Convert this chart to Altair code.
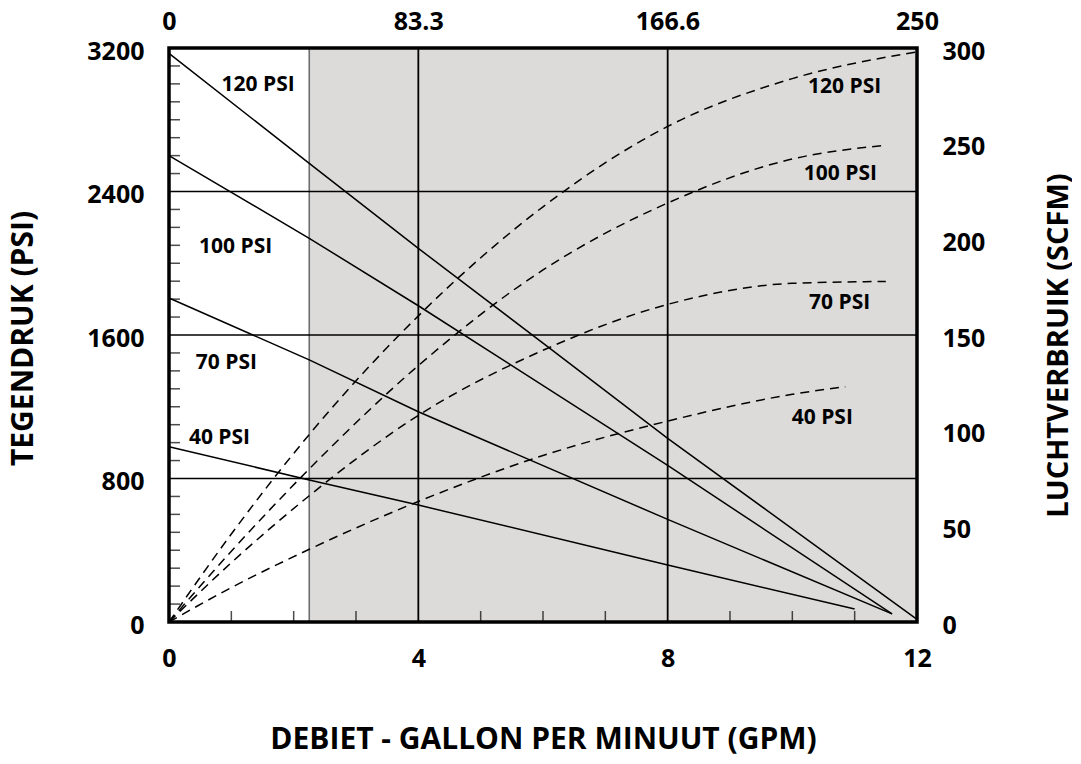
import altair as alt
import pandas as pd

FONT = "Open Sans"

# ---------------- data ----------------
series = ["120 PSI", "100 PSI", "70 PSI", "40 PSI"]

# back pressure (PSI, left axis) vs flow (GPM)
bp_x = {
    "120 PSI": [0, 2.25, 4, 6, 8, 12],
    "100 PSI": [0, 2.25, 4, 8, 11.6],
    "70 PSI": [0, 2.25, 4, 8, 11.6],
    "40 PSI": [0, 2.25, 4, 8, 11],
}
bp_y = {
    "120 PSI": [3170, 2557, 2083, 1555, 1024, 15],
    "100 PSI": [2600, 2139, 1763, 873, 45],
    "70 PSI": [1806, 1461, 1172, 572, 45],
    "40 PSI": [977, 792, 652, 318, 72],
}

# air consumption (SCFM, right axis) vs flow (GPM)
air_x = {
    "120 PSI": [0, 1, 2.25, 4, 6, 8, 10, 12],
    "100 PSI": [0, 1, 2.25, 4, 6, 8, 10, 11.45],
    "70 PSI": [0, 1, 2.25, 4, 6, 8, 10, 11.5],
    "40 PSI": [0, 1, 2.25, 4, 6, 8, 10, 10.85],
}
air_y = {
    "120 PSI": [0, 46, 98, 160, 217, 259, 284, 298],
    "100 PSI": [0, 37, 80, 134, 184, 219, 242, 249],
    "70 PSI": [0, 31, 66, 108, 142, 166, 177, 178],
    "40 PSI": [0, 18, 38, 63, 87, 105, 119, 123],
}

left_lbl_x = [1.43, 1.07, 0.92, 0.81]
left_lbl_y = [2996, 2088, 1446, 1028]
right_lbl_x = [10.84, 10.77, 10.76, 10.48]
right_lbl_y = [2985, 2495, 1781, 1140]

shade_start = 2.25
x_ticks_major = [0, 4, 8, 12]
y_ticks_major = [0, 800, 1600, 2400, 3200]
y2_ticks = [0, 50, 100, 150, 200, 250, 300]
top_ticks = [0, 83.3, 166.6, 250]
top_labels = ["0", "83.3", "166.6", "250"]
x_minor = [1, 2, 3, 5, 6, 7, 9, 10, 11]
y_minor = [v for v in range(100, 3200, 100) if v % 800 != 0]
v_grid = [4, 8]
h_grid = [800, 1600, 2400]

# ---------------- tables ----------------
bp_df = pd.DataFrame([
    {"s": s, "gpm": x, "psi": y, "o": i}
    for s in series for i, (x, y) in enumerate(zip(bp_x[s], bp_y[s]))
])
air_df = pd.DataFrame([
    {"s": s, "gpm": x, "scfm": y, "o": i}
    for s in series for i, (x, y) in enumerate(zip(air_x[s], air_y[s]))
])
lbl_df = pd.DataFrame({
    "t": series + series,
    "x": left_lbl_x + right_lbl_x,
    "y": left_lbl_y + right_lbl_y,
})

top_expr = " : ".join(
    f"abs(datum.value - {v}) < 0.01 ? '{t}'" for v, t in zip(top_ticks, top_labels)
) + " : ''"

xs = alt.Scale(domain=[0, 12], nice=False, zero=False)
ys = alt.Scale(domain=[0, 3200], nice=False)
ys2 = alt.Scale(domain=[0, 300], nice=False)
xs_top = alt.Scale(domain=[0, 250], nice=False)

shade = alt.Chart(pd.DataFrame({"x": [shade_start], "x2": [12], "y": [0], "y2": [3200]})).mark_rect(
    color="#dcdbd9"
).encode(
    x=alt.X("x:Q", scale=xs, axis=None), x2="x2:Q",
    y=alt.Y("y:Q", scale=ys, axis=None), y2="y2:Q",
)

shade_line = alt.Chart(pd.DataFrame({"x": [shade_start], "y": [0], "y2": [3200]})).mark_rule(
    color="#6e6e6e", strokeWidth=1.6
).encode(
    x=alt.X("x:Q", scale=xs, axis=None),
    y=alt.Y("y:Q", scale=ys, axis=None), y2="y2:Q",
)

vgrid = alt.Chart(pd.DataFrame({"x": v_grid, "y": [0] * len(v_grid), "y2": [3200] * len(v_grid)})).mark_rule(
    color="black", strokeWidth=1.8
).encode(
    x=alt.X("x:Q", scale=xs, axis=None),
    y=alt.Y("y:Q", scale=ys, axis=None), y2="y2:Q",
)

hgrid = alt.Chart(pd.DataFrame({"y": h_grid, "x": [0] * len(h_grid), "x2": [12] * len(h_grid)})).mark_rule(
    color="black", strokeWidth=1.6
).encode(
    x=alt.X("x:Q", scale=xs, axis=None), x2="x2:Q",
    y=alt.Y("y:Q", scale=ys, axis=None),
)

yticks = alt.Chart(pd.DataFrame({"y": y_minor, "x": [0] * len(y_minor)})).mark_tick(
    color="black", size=11, thickness=1.5, orient="horizontal", xOffset=5.5
).encode(
    x=alt.X("x:Q", scale=xs, axis=None),
    y=alt.Y("y:Q", scale=ys, axis=None),
)

xticks = alt.Chart(pd.DataFrame({"x": x_minor, "y": [0] * len(x_minor)})).mark_tick(
    color="black", size=11, thickness=1.5, orient="vertical", yOffset=-5.5
).encode(
    x=alt.X("x:Q", scale=xs, axis=None),
    y=alt.Y("y:Q", scale=ys, axis=None),
)

labels = alt.Chart(lbl_df).mark_text(
    font=FONT, fontSize=21, fontWeight="bold", color="black", align="center", baseline="middle"
).encode(
    x=alt.X("x:Q", scale=xs, axis=None),
    y=alt.Y("y:Q", scale=ys, axis=None),
    text="t:N",
)

frame = alt.Chart(pd.DataFrame({"x": [0], "x2": [12], "y": [0], "y2": [3200]})).mark_rect(
    filled=False, stroke="black", strokeWidth=3.5
).encode(
    x=alt.X("x:Q", scale=xs, axis=None), x2="x2:Q",
    y=alt.Y("y:Q", scale=ys, axis=None), y2="y2:Q",
)

group_a = alt.layer(shade, shade_line, vgrid, hgrid, labels)

solid = alt.Chart(bp_df).mark_line(color="black", strokeWidth=1.5).encode(
    x=alt.X("gpm:Q", scale=xs, axis=alt.Axis(
        values=x_ticks_major, format="d", orient="bottom",
        title="DEBIET - GALLON PER MINUUT (GPM)", titleFontSize=30,
        labelPadding=24, titleX=374, titleY=117, titleBaseline="middle", titleAlign="center",
    )),
    y=alt.Y("psi:Q", scale=ys, axis=alt.Axis(
        values=y_ticks_major, format="d", orient="left",
        title="TEGENDRUK (PSI)", titleFontSize=30,
        labelPadding=25, labelOffset=3,
        titleX=-146, titleY=290, titleAngle=270, titleBaseline="middle", titleAlign="center",
    )),
    detail="s:N",
    order="o:Q",
)

dashed = alt.Chart(air_df).mark_line(
    color="black", strokeWidth=1.5, strokeDash=[9, 6], interpolate="monotone"
).encode(
    x=alt.X("gpm:Q", scale=xs, axis=None),
    y=alt.Y("scfm:Q", scale=ys2, axis=alt.Axis(
        values=y2_ticks, format="d", orient="right",
        title="LUCHTVERBRUIK (SCFM)",
        labelPadding=25, labelOffset=3,
        titleX=141, titleY=297, titleAngle=270, titleBaseline="middle", titleAlign="center",
    )),
    detail="s:N",
    order="o:Q",
)

top = alt.Chart(pd.DataFrame({"v": top_ticks})).mark_point(opacity=0).encode(
    x=alt.X("v:Q", scale=xs_top, axis=alt.Axis(
        values=top_ticks, labelExpr=top_expr, orient="top", title=None, labelPadding=14,
    )),
    y=alt.value(0),
)

group_b = alt.layer(yticks, xticks, frame)

chart = alt.layer(group_a, solid, dashed, top, group_b).resolve_scale(
    x="independent", y="independent"
).properties(
    width=748, height=574,
    autosize=alt.AutoSizeParams(type="none"),
    padding={"left": 161, "top": 40, "right": 155, "bottom": 133},
).configure_axis(
    labelFont=FONT, labelFontSize=25, labelFontWeight="bold", labelColor="black",
    titleFont=FONT, titleFontSize=29, titleFontWeight="bold", titleColor="black",
    domain=False, ticks=False, tickSize=0, grid=False, labelFlush=False, labelOverlap=False,
).configure_view(stroke=None)

chart.save("out.html", embed_options={"renderer": "svg", "actions": False})
